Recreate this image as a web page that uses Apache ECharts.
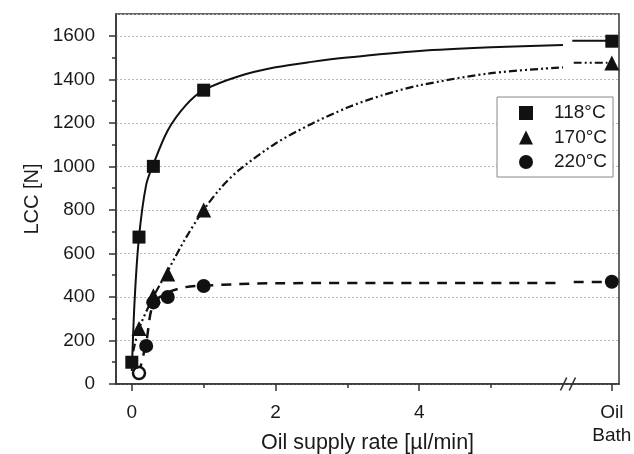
<!DOCTYPE html>
<html><head><meta charset="utf-8">
<script src="https://cdn.jsdelivr.net/npm/echarts@6/dist/echarts.min.js"></script>
<style>html,body{margin:0;padding:0;background:#fff}#c{width:634px;height:454px}</style>
</head><body><div id="c"></div>
<script>
// ---- data ----
const OIL_BATH_X = 6.68;           // position of the "Oil Bath" category on the x scale
const BREAK_X = 6.07;              // axis break marker

const x118 = [0, 0.1, 0.3, 1];
const y118 = [100, 675, 1000, 1350];
const oil118 = 1575;

const x170 = [0.1, 0.3, 0.5, 1];
const y170 = [255, 405, 505, 800];
const oil170 = 1475;

const x220 = [0.2, 0.3, 0.5, 1];
const y220 = [175, 375, 400, 450];
const oil220 = 470;
const open220 = [0.1, 50];          // open-circle point

// fitted curves
const fit118X = [0, 0.04, 0.1, 0.2, 0.3, 0.5, 0.75, 1, 1.5, 2, 2.5, 3, 4, 5, 6.0];
const fit118Y = [60, 390, 675, 915, 1010, 1165, 1280, 1350, 1415, 1455, 1480, 1500, 1530, 1547, 1558];
const fit118Tail = [[6.13, 1577], [6.62, 1577]];

const fit170X = [0.02, 0.1, 0.3, 0.5, 0.75, 1, 1.25, 1.5, 2, 2.5, 3, 3.5, 4, 5, 6.0];
const fit170Y = [150, 255, 400, 520, 670, 800, 905, 985, 1105, 1195, 1270, 1328, 1372, 1428, 1455];
const fit170Tail = [[6.15, 1476], [6.62, 1476]];

const fit220X = [0.1, 0.2, 0.3, 0.5, 0.75, 1, 1.5, 2, 4, 6.0];
const fit220Y = [50, 190, 370, 420, 445, 452, 459, 463, 464, 464];
const fit220Tail = [[6.15, 469], [6.62, 469]];

const xMajorTicks = [0, 2, 4, OIL_BATH_X];
const xMinorTicks = [1, 3, 5];
const xLabelValues = [0, 2, 4, OIL_BATH_X];
const yMinorTicks = [100, 300, 500, 700, 900, 1100, 1300, 1500];

const legendNames = ['118°C', '170°C', '220°C'];

// ---- build ----
const zip = (xs, ys) => xs.map((x, i) => [x, ys[i]]);
const withTail = (xs, ys, tail) => zip(xs, ys).concat([['-', '-']], tail);

const FONT = 'Liberation Sans, Arial, sans-serif';
const INK = '#1a1a1a';
const AXIS = '#333';
const X_MIN = -0.22, X_MAX = 6.78, Y_MIN = 0, Y_MAX = 1700;

const chart = echarts.init(document.getElementById('c'), null, {renderer: 'canvas'});
chart.setOption({
  animation: false,
  backgroundColor: '#fff',
  textStyle: {fontFamily: FONT, color: INK},
  grid: {left: 116, right: 15, top: 14, bottom: 70, show: true, borderColor: AXIS, borderWidth: 1.5,
         containLabel: false, outerBoundsMode: 'none'},
  legend: {
    data: legendNames,
    orient: 'vertical',
    left: 497, top: 97,
    padding: [6, 6, 5, 22],
    itemGap: 4.5,
    itemWidth: 14, itemHeight: 14,
    borderColor: '#888', borderWidth: 1,
    backgroundColor: '#fff',
    textStyle: {fontFamily: FONT, fontSize: 19, color: INK, padding: [0, 0, 0, 16], lineHeight: 20}
  },
  xAxis: [{
    type: 'value', min: X_MIN, max: X_MAX,
    axisLine: {show: true, onZero: false, lineStyle: {color: AXIS, width: 1.5}},
    axisTick: {show: true, inside: false, length: 7, lineStyle: {color: AXIS, width: 1.5}, customValues: xMajorTicks},
    axisLabel: {
      customValues: xLabelValues, margin: 17, fontSize: 19, color: INK, fontFamily: FONT, lineHeight: 23,
      formatter: v => (Math.abs(v - OIL_BATH_X) < 1e-6 ? 'Oil\nBath' : String(v))
    },
    splitLine: {show: false},
    name: 'Oil supply rate [µl/min]', nameLocation: 'middle', nameGap: 48, nameMoveOverlap: false,
    nameTextStyle: {fontSize: 21.5, color: INK, fontFamily: FONT}
  }, {
    type: 'value', min: X_MIN, max: X_MAX, position: 'bottom',
    axisLine: {show: false, onZero: false},
    axisTick: {show: true, inside: false, length: 4, lineStyle: {color: AXIS, width: 1.5}, customValues: xMinorTicks},
    axisLabel: {show: false}, splitLine: {show: false}
  }],
  yAxis: [{
    type: 'value', min: Y_MIN, max: Y_MAX, interval: 200,
    axisLine: {show: true, onZero: false, lineStyle: {color: AXIS, width: 1.5}},
    axisTick: {show: true, inside: false, length: 7, lineStyle: {color: AXIS, width: 1.5}},
    axisLabel: {margin: 21, fontSize: 19, color: INK, fontFamily: FONT, showMaxLabel: false,
                formatter: v => (v > 1600 ? '' : String(v))},
    splitLine: {show: true, lineStyle: {color: '#bbb', type: [2, 2], width: 1}},
    name: 'LCC [N]', nameLocation: 'middle', nameGap: 74, nameRotate: 90, nameMoveOverlap: false,
    nameTextStyle: {fontSize: 20, color: INK, fontFamily: FONT}
  }, {
    type: 'value', min: Y_MIN, max: Y_MAX, position: 'left',
    axisLine: {show: false, onZero: false},
    axisTick: {show: true, inside: false, length: 4, lineStyle: {color: AXIS, width: 1.5}, customValues: yMinorTicks},
    axisLabel: {show: false}, splitLine: {show: false}
  }],
  series: [
    {type: 'line', name: 'fit118', data: withTail(fit118X, fit118Y, fit118Tail), showSymbol: false, smooth: 0.3,
     lineStyle: {color: '#111', width: 2}, silent: true, z: 2},
    {type: 'line', name: 'fit170', data: withTail(fit170X, fit170Y, fit170Tail), showSymbol: false, smooth: 0.3,
     lineStyle: {color: '#111', width: 2.2, type: [8, 3, 2, 3, 2, 3]}, silent: true, z: 2},
    {type: 'line', name: 'fit220', data: withTail(fit220X, fit220Y, fit220Tail), showSymbol: false, smooth: 0.3,
     lineStyle: {color: '#111', width: 2.5, type: [10, 8]}, silent: true, z: 2},
    {type: 'scatter', name: legendNames[0], symbol: 'rect', symbolSize: 13,
     data: zip(x118, y118).concat([[OIL_BATH_X, oil118]]), itemStyle: {color: '#111', opacity: 1}, clip: false, z: 5},
    {type: 'scatter', name: legendNames[1], symbol: 'triangle', symbolSize: 15,
     data: zip(x170, y170).concat([[OIL_BATH_X, oil170]]), itemStyle: {color: '#111', opacity: 1}, clip: false, z: 4},
    {type: 'scatter', name: legendNames[2], symbol: 'circle', symbolSize: 14,
     data: zip(x220, y220).concat([[OIL_BATH_X, oil220]], [{value: open220, symbolSize: 12, itemStyle: {color: '#fff', borderColor: '#111', borderWidth: 2.5, opacity: 1}}]),
     itemStyle: {color: '#111', opacity: 1}, clip: false, z: 3},
    {type: 'scatter', name: 'axisBreak', data: [[BREAK_X, 0]], symbol: 'path://M0,16 L5,0 M7,16 L12,0', symbolSize: [15, 13],
     symbolKeepAspect: false, itemStyle: {color: 'rgba(0,0,0,0)', borderColor: AXIS, borderWidth: 1.5, opacity: 1}, clip: false, silent: true, z: 6}
  ]
});
</script></body></html>
